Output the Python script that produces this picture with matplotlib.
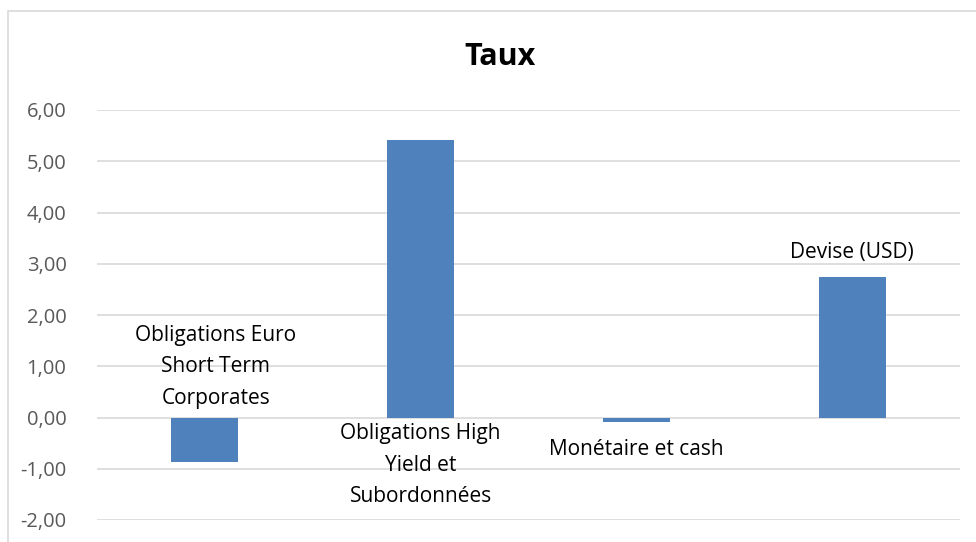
import matplotlib.pyplot as plt
from matplotlib.patches import Rectangle
from matplotlib.ticker import FuncFormatter

categories = ["Obligations Euro\nShort Term\nCorporates",
              "Obligations High\nYield et\nSubordonnées",
              "Monétaire et cash",
              "Devise (USD)"]
values = [-0.87, 5.41, -0.09, 2.74]
# where each label sits (y in data units, centre of text block)
label_y = [0.99, -0.93, -0.63, 3.21]
label_x_offset = [0.05, 0.0, 0.0, 0.0]

W, H = 976, 542
fig = plt.figure(figsize=(W / 100, H / 100), dpi=100)
plt.rcParams['font.family'] = ['Open Sans', 'DejaVu Sans']

# outer chart border (Excel style, cut by the picture edge)
fig.patches.append(Rectangle((8 / W, -0.1), 1.2, 1 - 11 / H + 0.1, transform=fig.transFigure,
                             fill=False, edgecolor='#D9D9D9', linewidth=1.2))

ax = fig.add_axes([97 / W, 22 / H, (960 - 97) / W, (520 - 110) / H])
x = range(len(values))
ax.bar(x, values, width=0.31, color='#4F81BD', zorder=3)

ax.set_xlim(-0.5, len(values) - 0.5)
ax.set_ylim(-2, 6)
ax.set_yticks(range(-2, 7))
ax.yaxis.set_major_formatter(FuncFormatter(lambda v, p: f"{v:.2f}".replace('.', ',')))
ax.tick_params(axis='y', length=0, labelsize=14.5, labelcolor='#595959', pad=22)
ax.set_xticks([])
ax.grid(axis='y', color='#D9D9D9', linewidth=1.2, zorder=0)
for s in ax.spines.values():
    s.set_visible(False)

for i, lab in enumerate(categories):
    ax.text(i + label_x_offset[i], label_y[i], lab, ha='center', va='center',
            fontsize=15, color='black', linespacing=1.65, zorder=4)

fig.text(500 / W, 1 - 57 / H, "Taux", ha='center', va='center',
         fontsize=22, fontweight='bold')

fig.savefig("out.png", dpi=100)
